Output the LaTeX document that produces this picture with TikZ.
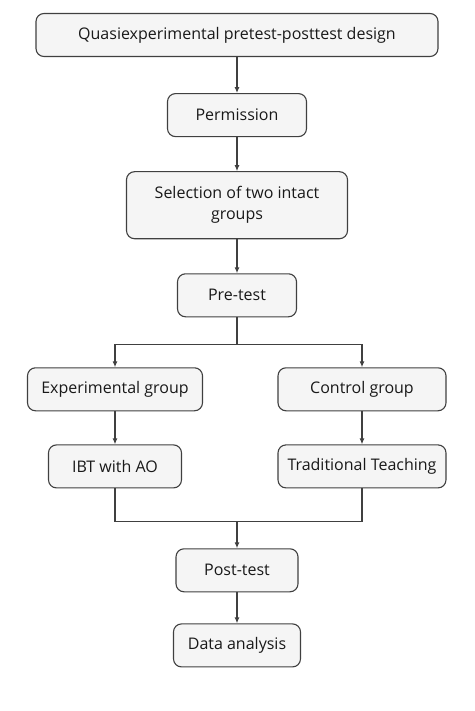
\documentclass[tikz,border=0pt]{standalone}
\usepackage{fontspec}
\setmainfont{Open Sans}
\usetikzlibrary{positioning}
\usetikzlibrary{arrows.meta}
\colorlet{mygray}{black!4}
\colorlet{mydark}{black!75}
\tikzstyle{mybox}=[draw=mydark,fill=mygray,text=black!90,rounded corners=8pt,line width=1.1pt,
                   minimum height=43pt,inner sep=0pt,align=center,font=\fontsize{16}{21}\selectfont]
\tikzstyle{myarrow}=[-{Latex[length=6,width=5]},mydark,line width=1.1pt]
\tikzstyle{myjoin}=[mydark,line width=1.1pt]

\begin{document}
\begin{tikzpicture}[x=1pt,y=1pt,node distance=34pt]
  \useasboundingbox (0,0) rectangle (474,-711);
  
  % design
  \node[mybox,minimum width=402pt] (0) at (237,-35) {Quasiexperimental pretest-posttest design};
  
  % permission
  \node[mybox,minimum width=139pt,below=36pt of 0] (1) {Permission};
  \draw[myarrow] (0) -- (1);
  
  % selection
  \node[mybox,minimum width=221pt,minimum height=67pt,below=of 1] (2) {Selection of two intact\\groups};
  \draw[myarrow] (1) -- (2);
  
  % pre-test
  \node[mybox,minimum width=119pt,below=of 2] (3) {Pre-test};
  \draw[myarrow] (2) -- (3);
  
  % groups
  \path (3)++(-122,-94) node[mybox,minimum width=175pt] (30) {Experimental group};
  \path (3)++(125,-94) node[mybox,minimum width=168pt] (31) {Control group};
  \draw[myjoin] (3) -- ++(0,-49) coordinate (split);
  \draw[myarrow] (split) -| (30);
  \draw[myarrow] (split) -| (31);
  
  % treatments
  \node[mybox,minimum width=133pt,below=33pt of 30] (300) {IBT with AO};
  \draw[myarrow] (30) -- (300);
  \node[mybox,minimum width=168pt,below=33pt of 31] (310) {Traditional Teaching};
  \draw[myarrow] (31) -- (310);
  
  % post-test
  \path (3)++(0,-275) node[mybox,minimum width=122pt] (4) {Post-test};
  \path (4.north)++(0,27) coordinate (merge);
  \draw[myjoin] (300) |- (merge);
  \draw[myjoin] (310) |- (merge);
  \draw[myarrow] (merge) -- (4);
  
  % data analysis
  \node[mybox,minimum width=127pt,below=31pt of 4] (5) {Data analysis};
  \draw[myarrow] (4) -- (5);
  
\end{tikzpicture}
\end{document}
